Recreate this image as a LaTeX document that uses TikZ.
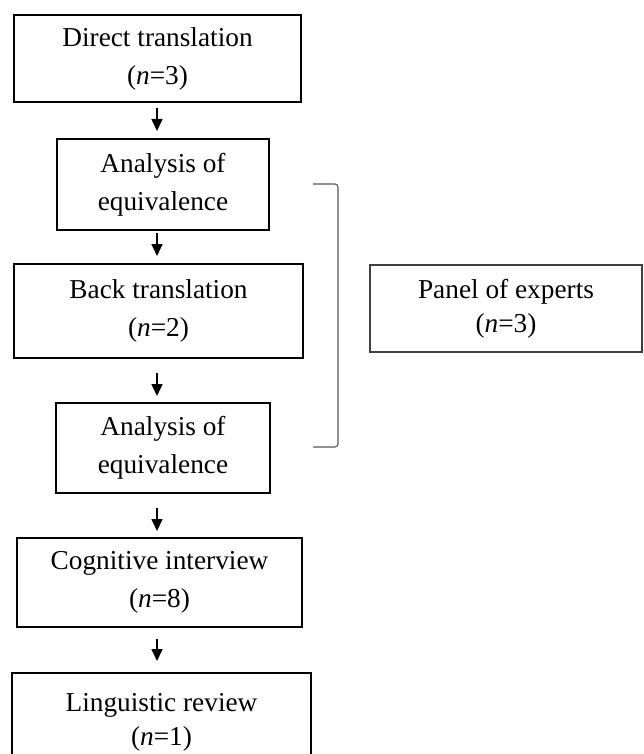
\documentclass[tikz,border=0pt]{standalone}
\usepackage{fontspec}
\setmainfont{Liberation Serif}
\usetikzlibrary{arrows.meta,calc}
\begin{document}
\begin{tikzpicture}[x=1pt,y=-1pt,
  mainbox/.style={draw=black, line width=2pt, inner sep=0pt, align=center,
    font=\fontsize{27.3}{38}\selectfont},
  panelbox/.style={draw=black!75, line width=1.3pt, inner sep=0pt, align=center,
    font=\fontsize{27.3}{34}\selectfont},
  flow/.style={draw=black, line width=1.6pt, -{Triangle[width=11pt,length=12pt]}},
  bracketline/.style={draw=black!65, line width=1.1pt, rounded corners=3pt}]
\useasboundingbox (0,0) rectangle (643,754);
\fill[white] (0,0) rectangle (643,754);

\node[mainbox, minimum width=287pt, minimum height=87pt] (b1) at (157.5,58.5)
  {Direct translation\\(\textit{n}=3)};
\node[mainbox, minimum width=212pt, minimum height=91pt] (b2) at (163,184.5)
  {Analysis of\\equivalence};
\node[mainbox, minimum width=289pt, minimum height=94pt] (b3) at (158.5,311)
  {Back translation\\(\textit{n}=2)};
\node[mainbox, minimum width=214pt, minimum height=90pt] (b4) at (163,448)
  {Analysis of\\equivalence};
\node[mainbox, minimum width=285pt, minimum height=89pt] (b5) at (159.5,582.5)
  {Cognitive interview\\(\textit{n}=8)};
\node[mainbox, minimum width=299pt, minimum height=98pt,
  font=\fontsize{27.3}{34}\selectfont] (b6) at (161.5,722)
  {Linguistic review\\(\textit{n}=1)};
\node[panelbox, minimum width=272pt, minimum height=87pt] (panel) at (506,308.5)
  {Panel of experts\\(\textit{n}=3)};

\coordinate (ax) at (157,0);
\draw[flow, shorten <=5pt, shorten >=7pt] (b1.south -| ax) -- (b2.north -| ax);
\draw[flow, shorten <=2pt, shorten >=7pt] (b2.south -| ax) -- (b3.north -| ax);
\draw[flow, shorten <=14pt, shorten >=6pt] (b3.south -| ax) -- (b4.north -| ax);
\draw[flow, shorten <=14pt, shorten >=6pt] (b4.south -| ax) -- (b5.north -| ax);
\draw[flow, shorten <=11pt, shorten >=11pt] (b5.south -| ax) -- (b6.north -| ax);

\draw[bracketline] (313,184) -- (338,184) -- (338,447) -- (313,447);
\end{tikzpicture}
\end{document}
